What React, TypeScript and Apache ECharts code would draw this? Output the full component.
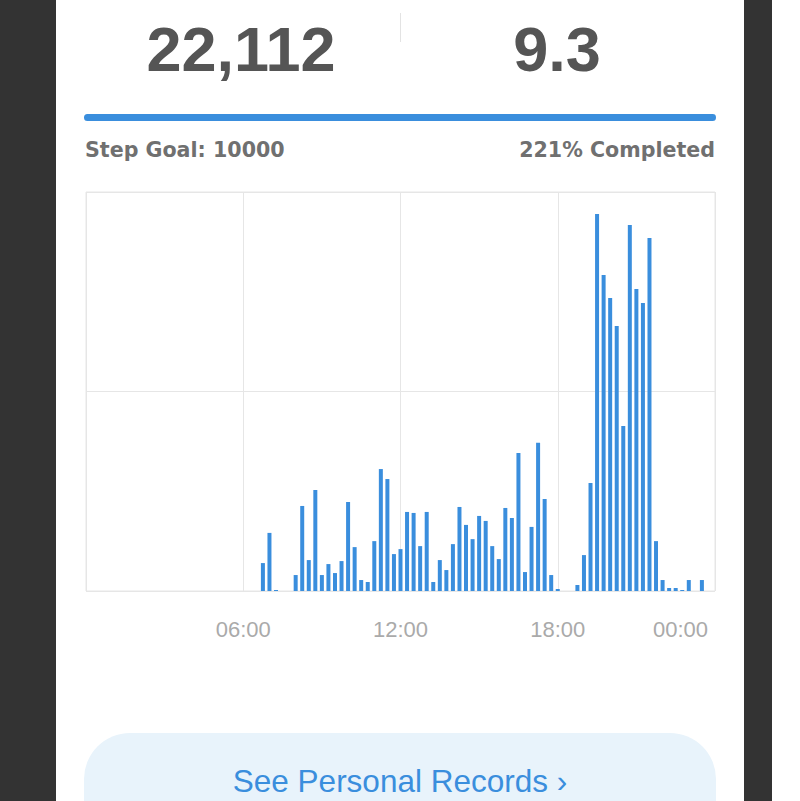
import React, { useEffect, useRef } from "react";
import * as echarts from "echarts";

// ---- data ----
const totalSteps = 22112;
const distanceKm = 9.3;
const stepGoal = 10000;

// steps per 15-minute slot, slot 0 = 00:00 ... slot 95 = 23:45
const stepsPer15Min: number[] = [
  0, 0, 0, 0, 0, 0, 0, 0, 0, 0, 0, 0, 0, 0, 0, 0, 0, 0, 0, 0, 0, 0, 0, 0, // 00:00-05:45
  0, 0, 0, 112, 233, 4, 0, 0, 64, 341, 124, 405, 64, 108, 72, 120, 357, 176, 44, 36, 200, 489, 449, 148, // 06:00-11:45
  168, 317, 313, 180, 317, 36, 124, 84, 188, 337, 265, 208, 301, 281, 180, 128, 333, 293, 553, 76, 257, 594, 369, 64, // 12:00-17:45
  8, 0, 0, 24, 144, 433, 1512, 1267, 1175, 1063, 662, 1468, 1211, 1155, 1416, 200, 44, 12, 12, 4, 44, 0, 44, 0, // 18:00-23:45
];

const hourTicks = [6, 12, 18, 24];
const tickLabels = ["06:00", "12:00", "18:00", "00:00"];

const BLUE = "#3a8edd";

export default function App() {
  const ref = useRef<HTMLDivElement>(null);

  useEffect(() => {
    if (!ref.current) return;
    const chart = echarts.init(ref.current, undefined, { renderer: "svg" });
    const pct = Math.round((totalSteps / stepGoal) * 100);
    const fill = Math.min(1, totalSteps / stepGoal);
    const barData = stepsPer15Min.map((v, i) => [i * 0.25, v]);

    chart.setOption({
      animation: false,
      backgroundColor: "#ffffff",
      grid: {
        left: 86,
        right: 85,
        top: 192,
        bottom: 210,
        show: true,
        borderColor: "#e6e6e6",
        borderWidth: 1,
      },
      xAxis: {
        type: "value",
        min: 0,
        max: 24,
        interval: 6,
        axisLine: { show: false },
        axisTick: { show: false },
        splitLine: { show: true, lineStyle: { color: "#e6e6e6", width: 1 } },
        axisLabel: {
          showMinLabel: false,
          margin: 27,
          color: "#aaaaaa",
          fontFamily: "Liberation Sans, Arial, sans-serif",
          fontSize: 22,
          formatter: (v: number) => {
            const idx = hourTicks.indexOf(v);
            if (idx < 0) return "";
            if (v === 24) return "{r|" + tickLabels[idx] + "}";
            return tickLabels[idx];
          },
          alignMaxLabel: "right",
          rich: {
            r: {
              color: "#aaaaaa",
              fontFamily: "Liberation Sans, Arial, sans-serif",
              fontSize: 22,
              padding: [0, 7, 0, 0],
            },
          },
        },
      },
      yAxis: {
        type: "value",
        min: 0,
        max: 1600,
        interval: 800,
        axisLine: { show: false },
        axisTick: { show: false },
        axisLabel: { show: false },
        splitLine: { show: true, lineStyle: { color: "#e6e6e6", width: 1 } },
      },
      series: [
        {
          type: "bar",
          data: barData,
          barWidth: 4,
          itemStyle: { color: BLUE },
          silent: true,
        },
      ],
      graphic: [
        { type: "rect", z: -10, shape: { x: 0, y: 0, width: 56, height: 801 }, style: { fill: "#333333" } },
        { type: "rect", z: -10, shape: { x: 744, y: 0, width: 28, height: 801 }, style: { fill: "#333333" } },
        {
          type: "text",
          x: 241,
          y: 49,
          style: {
            text: totalSteps.toLocaleString("en-US"),
            fill: "#555555",
            font: "bold 63px 'Liberation Sans', Arial, sans-serif",
            textAlign: "center",
            textVerticalAlign: "middle",
          },
        },
        {
          type: "text",
          x: 557,
          y: 49,
          style: {
            text: String(distanceKm),
            fill: "#555555",
            font: "bold 63px 'Liberation Sans', Arial, sans-serif",
            textAlign: "center",
            textVerticalAlign: "middle",
          },
        },
        {
          type: "line",
          shape: { x1: 400.5, y1: 13, x2: 400.5, y2: 42 },
          style: { stroke: "#e3e3e3", lineWidth: 1 },
        },
        {
          type: "rect",
          shape: { x: 84, y: 114, width: 632, height: 7, r: 3.5 },
          style: { fill: "#e8f3fb" },
        },
        {
          type: "rect",
          shape: { x: 84, y: 114, width: 632 * fill, height: 7, r: 3.5 },
          style: { fill: BLUE },
        },
        {
          type: "text",
          x: 85,
          y: 150,
          style: {
            text: "Step Goal: " + stepGoal,
            fill: "#707070",
            font: "bold 20.6px 'DejaVu Sans', sans-serif",
            textAlign: "left",
            textVerticalAlign: "middle",
          },
        },
        {
          type: "text",
          x: 715,
          y: 150,
          style: {
            text: pct + "% Completed",
            fill: "#707070",
            font: "bold 20.6px 'DejaVu Sans', sans-serif",
            textAlign: "right",
            textVerticalAlign: "middle",
          },
        },
        {
          type: "rect",
          shape: { x: 84, y: 733, width: 632, height: 130, r: 46 },
          style: { fill: "#e8f3fb" },
        },
        {
          type: "text",
          x: 400,
          y: 781,
          style: {
            text: "See Personal Records \u203A",
            fill: BLUE,
            font: "31.5px 'Liberation Sans', Arial, sans-serif",
            textAlign: "center",
            textVerticalAlign: "middle",
          },
        },
      ],
    });

    return () => chart.dispose();
  }, []);

  return (
    <div
      ref={ref}
      style={{ position: "absolute", left: 0, top: 0, width: 800, height: 801 }}
    />
  );
}
